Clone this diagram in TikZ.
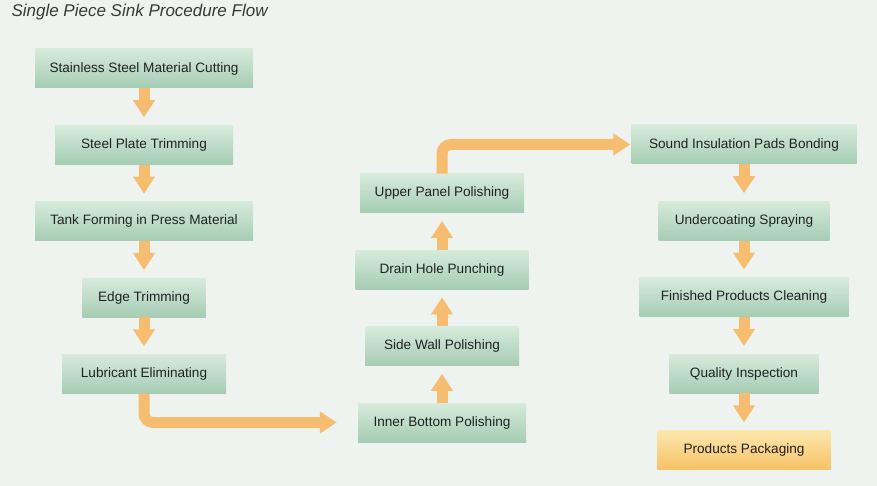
\documentclass[tikz,border=0pt]{standalone}
\usepackage{fontspec}
\setmainfont{Liberation Sans}
\usetikzlibrary{arrows.meta,positioning}
\definecolor{pagebg}{HTML}{EEF3EF}
\definecolor{boxtop}{HTML}{D7EBDB}
\definecolor{boxbot}{HTML}{A5CCB3}
\definecolor{packtop}{HTML}{FDE7AE}
\definecolor{packbot}{HTML}{F6C266}
\definecolor{flow}{HTML}{F6BD70}
\definecolor{inktext}{HTML}{222222}
\tikzset{
  procbox/.style={rectangle, top color=boxtop, bottom color=boxbot, draw=none, minimum width=#1,
                  minimum height=39pt, inner sep=0pt, font=\fontsize{13.6}{16}\selectfont, text=inktext},
  packbox/.style={procbox=#1, top color=packtop, bottom color=packbot},
  flowarr/.style={-{Triangle[width=21pt,length=17pt]}, line width=11pt, draw=flow, shorten >=8pt},
}

\begin{document}
\begin{tikzpicture}[x=1pt, y=-1pt]
    \fill[pagebg] (0,0) rectangle (877,486);
    \useasboundingbox (0,0) rectangle (877,486);
    \node[anchor=west, font=\itshape\fontsize{17}{20}\selectfont, text=inktext!90] (title) at (8,12) {Single Piece Sink Procedure Flow};
    % left column
    \node[procbox=218pt] (cut) at (144,68.5) {Stainless Steel Material Cutting};
    \node[procbox=178pt, below=37pt of cut] (plate) {Steel Plate Trimming};
    \node[procbox=218pt, below=37pt of plate] (tank) {Tank Forming in Press Material};
    \node[procbox=123pt, below=37pt of tank] (edge) {Edge Trimming};
    \node[procbox=164pt, below=37pt of edge] (lube) {Lubricant Eliminating};
    % middle column
    \node[procbox=168pt] (inner) at (442,422.5) {Inner Bottom Polishing};
    \node[procbox=154pt, above=37pt of inner] (side) {Side Wall Polishing};
    \node[procbox=173pt, above=37pt of side] (drain) {Drain Hole Punching};
    \node[procbox=164pt, above=37pt of drain] (upper) {Upper Panel Polishing};
    % right column
    \node[procbox=225pt] (sound) at (744,144.5) {Sound Insulation Pads Bonding};
    \node[procbox=171pt, below=37pt of sound] (under) {Undercoating Spraying};
    \node[procbox=209pt, below=37pt of under] (clean) {Finished Products Cleaning};
    \node[procbox=149pt, below=37pt of clean] (inspect) {Quality Inspection};
    \node[packbox=173pt, below=37pt of inspect] (pack) {Products Packaging};
    % connectors
    \draw[flowarr] (cut) -- (plate);
    \draw[flowarr] (plate) -- (tank);
    \draw[flowarr] (tank) -- (edge);
    \draw[flowarr] (edge) -- (lube);
    \draw[flowarr, rounded corners=9pt, shorten >=21pt] (lube.south) |- (inner.west);
    \draw[flowarr] (inner) -- (side);
    \draw[flowarr] (side) -- (drain);
    \draw[flowarr] (drain) -- (upper);
    \draw[flowarr, rounded corners=9pt, shorten >=1pt] (upper.north) |- (sound.west);
    \draw[flowarr] (sound) -- (under);
    \draw[flowarr] (under) -- (clean);
    \draw[flowarr] (clean) -- (inspect);
    \draw[flowarr] (inspect) -- (pack);
\end{tikzpicture}
\end{document}
